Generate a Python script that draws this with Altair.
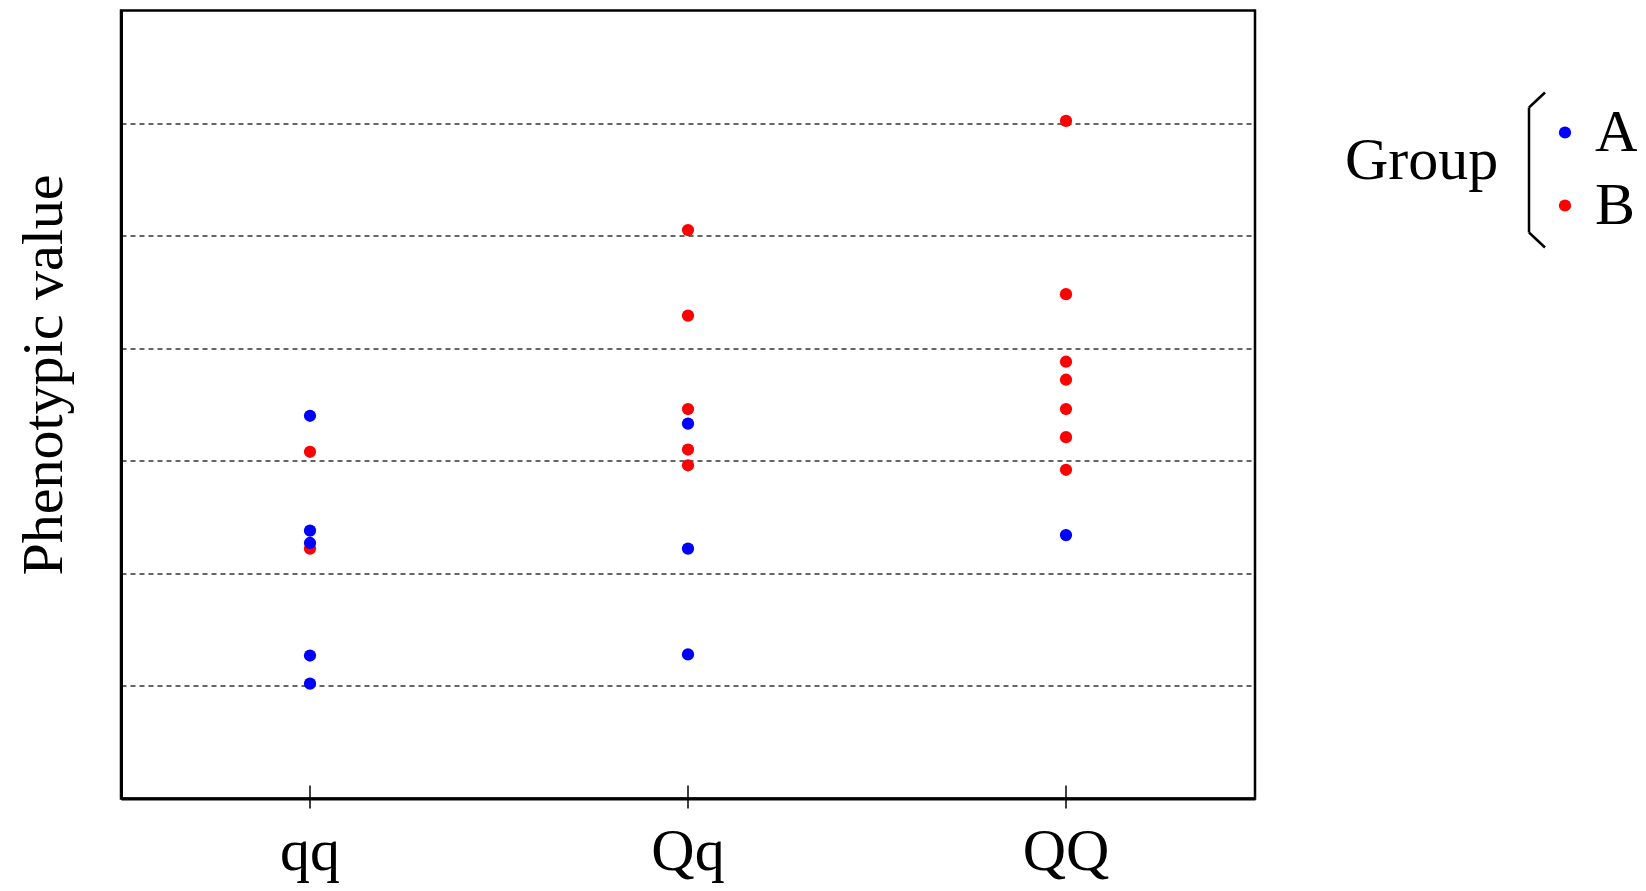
import altair as alt
import pandas as pd

genotypes = ["qq", "Qq", "QQ"]
groups = ["A", "B"]
colors = ["#0000ff", "#ff0000"]

# phenotypic values
qq_A = [3.40, 2.38, 2.27, 1.27, 1.02]
qq_B = [3.08, 2.22]
Qq_A = [3.33, 2.22, 1.28]
Qq_B = [5.05, 4.29, 3.46, 3.10, 2.96]
QQ_A = [2.34]
QQ_B = [6.02, 4.48, 3.88, 3.72, 3.46, 3.21, 2.92]

grid_values = [1, 2, 3, 4, 5, 6]

rows = []
for g, vals in [("qq", qq_B), ("Qq", Qq_B), ("QQ", QQ_B)]:
    rows += [{"genotype": g, "group": "B", "value": v} for v in vals]
for g, vals in [("qq", qq_A), ("Qq", Qq_A), ("QQ", QQ_A)]:
    rows += [{"genotype": g, "group": "A", "value": v} for v in vals]
df = pd.DataFrame(rows)
geno_df = pd.DataFrame({"genotype": genotypes})
one = pd.DataFrame({"k": [0]})

FONT = "Liberation Serif"
W, H = 1134, 788

x_enc = alt.X(
    "genotype:N",
    sort=genotypes,
    title=None,
    axis=alt.Axis(
        domain=True, domainColor="black", domainWidth=3,
        ticks=False, grid=False,
        labelFont=FONT, labelFontSize=60, labelColor="black",
        labelPadding=71, labelBaseline="alphabetic", labelAngle=0,
    ),
)

points = alt.Chart(df).mark_circle(size=150, opacity=1).encode(
    x=x_enc,
    y=alt.Y(
        "value:Q",
        scale=alt.Scale(domain=[0, 7], nice=False, zero=False),
        axis=alt.Axis(
            values=grid_values, labels=False, ticks=False,
            domain=True, domainColor="black", domainWidth=3,
            grid=True, gridDash=[5, 4], gridColor="#333333", gridWidth=1.5,
            title="Phenotypic value", titleFont=FONT, titleFontSize=58,
            titleFontWeight="normal", titleColor="black",
            titleAngle=270, titleAlign="center", titleBaseline="alphabetic",
            titleX=-60, titleY=364,
        ),
    ),
    color=alt.Color(
        "group:N",
        scale=alt.Scale(domain=groups, range=colors),
        legend=alt.Legend(
            title=None, orient="none", legendX=1414, legendY=92,
            labelFont=FONT, labelFontSize=60, labelColor="black",
            symbolType="circle", symbolSize=150, symbolStrokeWidth=0,
            labelOffset=0, rowPadding=13, padding=0,
        ),
    ),
)

ticks = alt.Chart(geno_df).mark_rule(color="black", strokeWidth=1.5).encode(
    x=alt.X("genotype:N", sort=genotypes),
    y=alt.value(H - 13),
    y2=alt.value(H + 10),
)

legend_title = alt.Chart(one).mark_text(
    text="Group", font=FONT, fontSize=60, align="left", baseline="alphabetic", color="black"
).encode(x=alt.value(1224), y=alt.value(168))

bx, btop, bbot, bend = 1408, 97, 222, 1424
br_v = alt.Chart(one).mark_rule(color="black", strokeWidth=2.5).encode(
    x=alt.value(bx), y=alt.value(btop), y2=alt.value(bbot))
br_t = alt.Chart(one).mark_rule(color="black", strokeWidth=2.5).encode(
    x=alt.value(bx), x2=alt.value(bend), y=alt.value(btop), y2=alt.value(btop - 15))
br_b = alt.Chart(one).mark_rule(color="black", strokeWidth=2.5).encode(
    x=alt.value(bx), x2=alt.value(bend), y=alt.value(bbot), y2=alt.value(bbot + 15))

chart = alt.layer(points, ticks, legend_title, br_v, br_t, br_b).properties(
    width=W, height=H,
    padding={"left": 113, "top": 2.5, "right": 382, "bottom": 84},
    autosize=alt.AutoSizeParams(type="none"),
    background="white",
).configure_view(stroke="black", strokeWidth=2.5)

chart.save("out.html", embed_options={"renderer": "svg", "actions": False})
